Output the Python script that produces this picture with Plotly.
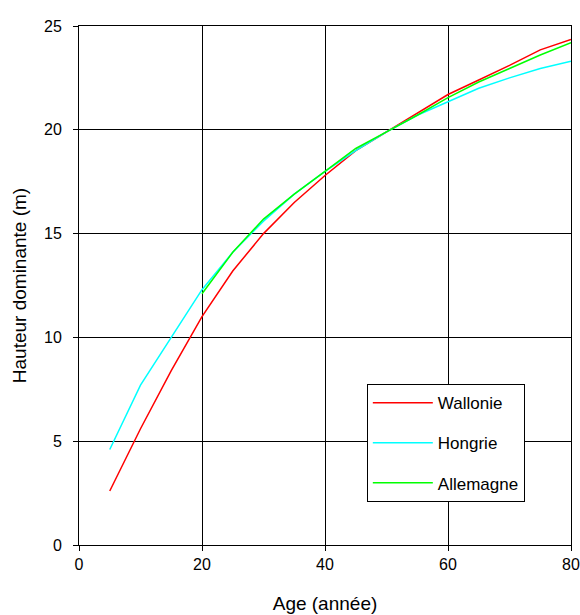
import plotly.graph_objects as go

ages = [5, 10, 15, 20, 25, 30, 35, 40, 45, 50, 55, 60, 65, 70, 75, 80]
wallonie = [2.6, 5.6, 8.4, 11.0, 13.2, 15.0, 16.5, 17.8, 19.0, 19.9, 20.8, 21.7, 22.4, 23.1, 23.85, 24.35]
hongrie = [4.6, 7.7, 10.0, 12.3, 14.1, 15.6, 16.9, 18.0, 19.0, 19.9, 20.7, 21.35, 22.0, 22.5, 22.95, 23.3]
ages_all = [20, 25, 30, 35, 40, 45, 50, 55, 60, 65, 70, 75, 80]
allemagne = [12.1, 14.1, 15.7, 16.9, 18.0, 19.1, 19.9, 20.7, 21.55, 22.3, 22.95, 23.6, 24.2]

fig = go.Figure()
fig.add_trace(go.Scatter(x=ages, y=wallonie, mode="lines", name="Wallonie",
                         line=dict(color="#ff0000", width=1.5), legendgroup="a"))
fig.add_trace(go.Scatter(x=ages, y=hongrie, mode="lines", name="Hongrie",
                         line=dict(color="#00ffff", width=1.5), legendgroup="b"))
fig.add_trace(go.Scatter(x=ages_all, y=allemagne, mode="lines", name="Allemagne",
                         line=dict(color="#00ff00", width=1.5), legendgroup="c"))

fig.update_layout(
    width=580, height=615,
    margin=dict(l=79, r=9, t=26, b=70),
    paper_bgcolor="white", plot_bgcolor="white",
    font=dict(family="Liberation Sans, Arial", size=16, color="black"),
    legend=dict(x=0.585, y=0.31, xanchor="left", yanchor="top",
                bordercolor="black", borderwidth=1, bgcolor="white",
                tracegroupgap=15, itemwidth=60, entrywidth=175,
                font=dict(size=17)),
    showlegend=True,
)
fig.update_xaxes(range=[0, 80], tickvals=[0, 20, 40, 60, 80], showgrid=True,
                 gridcolor="black", gridwidth=1, showline=True, linecolor="black",
                 linewidth=1, mirror=True, ticks="outside", ticklen=5, tickcolor="black",
                 zeroline=False, automargin=False, ticklabelstandoff=0,
                 title=dict(text="Age (année)", font=dict(size=19), standoff=24))
fig.update_yaxes(range=[0, 25], tickvals=[0, 5, 10, 15, 20, 25], showgrid=True,
                 gridcolor="black", gridwidth=1, showline=True, linecolor="black",
                 linewidth=1, mirror=True, ticks="outside", ticklen=5, tickcolor="black",
                 zeroline=False, automargin=False, ticklabelstandoff=8,
                 title=dict(text="Hauteur dominante (m)", font=dict(size=19), standoff=12))

fig.write_html("out.html", config={"displayModeBar": False},
               post_script="document.body.style.margin='0';document.body.style.overflow='hidden';")
